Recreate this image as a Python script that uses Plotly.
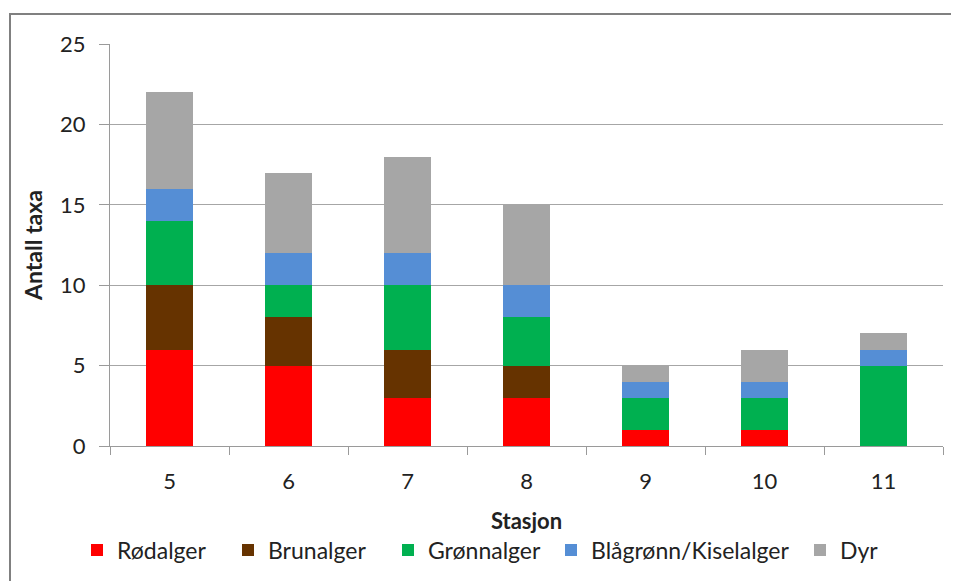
import plotly.graph_objects as go

stations = ["5", "6", "7", "8", "9", "10", "11"]
rodalger = [6, 5, 3, 3, 1, 1, 0]
brunalger = [4, 3, 3, 2, 0, 0, 0]
gronnalger = [4, 2, 4, 3, 2, 2, 5]
blagronn = [2, 2, 2, 2, 1, 1, 1]
dyr = [6, 5, 6, 5, 1, 2, 1]

series = [
    ("Rødalger", rodalger, "#FF0000"),
    ("Brunalger", brunalger, "#663300"),
    ("Grønnalger", gronnalger, "#00B050"),
    ("Blågrønn/Kiselalger", blagronn, "#558ED5"),
    ("Dyr", dyr, "#A6A6A6"),
]
legend_left_px = [91, 242, 402, 565, 814]  # legend swatch positions (page px)

font = "Lato, 'Open Sans', sans-serif"
OFF = 8  # page body margin
W, H = 959 - OFF, 581 - OFF
px0, px1, py0, py1 = 110, 943, 44, 446  # plot area in page coords
L = px0 - OFF
T = py0 - OFF
pw = px1 - px0
ph = py1 - py0
R = W - L - pw
B = H - T - ph

fig = go.Figure()
legends = {}
for i, (name, vals, col) in enumerate(series):
    key = "legend" if i == 0 else f"legend{i + 1}"
    fig.add_trace(go.Bar(x=stations, y=vals, name=name, legend=key,
                         marker=dict(color=col, line=dict(width=0))))
    legends[key] = dict(orientation="h", x=(legend_left_px[i] - 14 - px0) / pw,
                        xanchor="left", y=(py1 - 550) / ph, yanchor="middle",
                        font=dict(size=23, color="#222"), itemwidth=30,
                        bgcolor="rgba(0,0,0,0)")

fig.update_layout(
    width=W, height=H,
    barmode="stack", bargap=0.6,
    plot_bgcolor="white", paper_bgcolor="white",
    margin=dict(l=L, r=R, t=T, b=B, autoexpand=False),
    font=dict(family=font, size=22, color="#222"),
    showlegend=True,
    xaxis=dict(type="category", showgrid=False, showline=True,
               linecolor="#9a9a9a", linewidth=1,
               ticks="outside", tickson="boundaries", ticklen=8,
               tickcolor="#9a9a9a", ticklabelstandoff=16,
               tickfont=dict(size=22),
               title=dict(text="<b>Stasjon</b>", font=dict(size=22), standoff=20)),
    yaxis=dict(range=[0, 25], dtick=5, showgrid=True, gridcolor="#a6a6a6",
               gridwidth=1, showline=True, linecolor="#9a9a9a", linewidth=1,
               ticks="outside", ticklen=10, tickcolor="#9a9a9a",
               ticklabelstandoff=9, tickfont=dict(size=22),
               zeroline=False,
               title=dict(text="<b>Antall taxa</b>", font=dict(size=23), standoff=11)),
    shapes=[dict(type="rect", xref="paper", yref="paper",
                 x0=(10 - px0) / pw, x1=(959 + 10 - px0) / pw,
                 y0=(py1 - 600) / ph, y1=(py1 - 14) / ph,
                 line=dict(color="#808080", width=2), layer="below")],
)
fig.update_layout(**legends)

fig.write_html("out.html")
